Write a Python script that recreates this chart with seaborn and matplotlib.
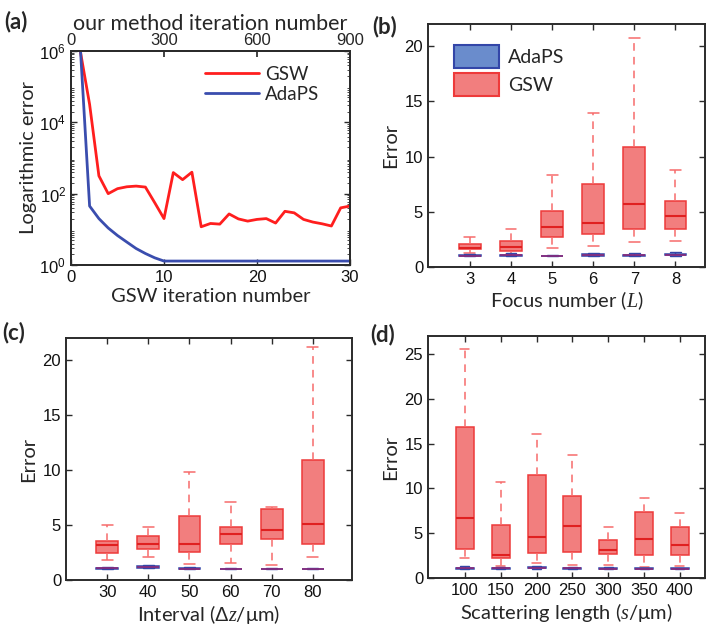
import numpy as np
import pandas as pd
import matplotlib
matplotlib.use("Agg")
import matplotlib.pyplot as plt
from matplotlib.patches import Patch
from matplotlib.ticker import LogLocator, NullFormatter, FixedLocator
import seaborn as sns

sns.set_theme(style="ticks")
plt.rcParams['font.family'] = ['Liberation Sans', 'DejaVu Sans']
plt.rcParams['mathtext.fontset'] = 'custom'
plt.rcParams['mathtext.it'] = 'Liberation Serif:italic'
plt.rcParams['mathtext.rm'] = 'Liberation Sans'

# ---------------- data ----------------
# (a) convergence curves
iters = list(range(1, 31))
gsw_curve = [1.0e6, 3.2e4, 316, 100, 138, 156, 163, 153, 56, 20,
             390, 247, 400, 11.8, 14.6, 14.0, 27, 19.6, 17, 19,
             20, 15, 32, 29, 19, 16, 14.3, 12.4, 40, 45]
adaps_curve = [1.3e6, 45, 20, 10.9, 6.7, 4.4, 2.9, 2.1, 1.59, 1.29,
               1.29, 1.29, 1.29, 1.29, 1.29, 1.29, 1.29, 1.29, 1.29, 1.29,
               1.29, 1.29, 1.29, 1.29, 1.29, 1.29, 1.29, 1.29, 1.29, 1.29]
top_ticks = [0, 300, 600, 900]

# box stats as [min, q1, median, q3, max]
# (b) focus number
focus_cats = ["3", "4", "5", "6", "7", "8"]
focus_gsw = [[1.25, 1.6, 1.76, 2.1, 2.73],
             [1.2, 1.45, 1.85, 2.33, 3.45],
             [1.73, 2.76, 3.6, 5.06, 8.33],
             [1.9, 3.0, 4.0, 7.48, 13.94],
             [2.24, 3.48, 5.7, 10.9, 20.7],
             [2.36, 3.45, 4.64, 5.94, 8.82]]
focus_ada = [[0.97, 1.0, 1.03, 1.1, 1.2],
             [0.98, 1.0, 1.05, 1.12, 1.3],
             [0.97, 0.99, 1.0, 1.03, 1.08],
             [0.98, 1.02, 1.07, 1.14, 1.3],
             [0.98, 1.02, 1.06, 1.12, 1.28],
             [1.0, 1.05, 1.1, 1.2, 1.4]]
# (c) interval
interval_cats = ["30", "40", "50", "60", "70", "80"]
interval_gsw = [[1.78, 2.45, 3.17, 3.56, 5.0],
                [2.08, 2.81, 3.29, 3.99, 4.83],
                [1.48, 2.54, 3.26, 5.83, 9.79],
                [1.54, 3.23, 4.17, 4.83, 7.13],
                [1.33, 3.75, 4.59, 6.47, 6.68],
                [2.11, 3.26, 5.05, 10.88, 21.2]]
interval_ada = [[0.98, 1.02, 1.06, 1.12, 1.22],
                [1.05, 1.12, 1.18, 1.26, 1.35],
                [0.98, 1.0, 1.04, 1.1, 1.18],
                [0.97, 0.99, 1.0, 1.03, 1.08],
                [0.96, 0.98, 1.0, 1.03, 1.08],
                [0.97, 0.99, 1.0, 1.03, 1.1]]
# (d) scattering length
scat_cats = ["100", "150", "200", "250", "300", "350", "400"]
scat_gsw = [[2.19, 3.26, 6.67, 16.9, 25.5],
            [1.33, 2.22, 2.56, 5.93, 10.7],
            [1.63, 2.78, 4.56, 11.44, 16.04],
            [1.44, 2.89, 5.81, 9.19, 13.74],
            [1.41, 2.7, 3.11, 4.22, 5.67],
            [1.22, 2.56, 4.37, 7.41, 8.89],
            [1.33, 2.56, 3.7, 5.7, 7.26]]
scat_ada = [[0.98, 1.02, 1.07, 1.14, 1.3],
            [0.98, 1.02, 1.08, 1.15, 1.28],
            [1.0, 1.06, 1.12, 1.22, 1.35],
            [0.98, 1.02, 1.07, 1.14, 1.22],
            [0.97, 1.0, 1.04, 1.1, 1.2],
            [0.97, 0.99, 1.02, 1.06, 1.12],
            [0.97, 1.0, 1.03, 1.08, 1.16]]

# ---------------- style ----------------
RED_LINE = '#FF1E1E'
BLUE_LINE = '#3A4DAE'
RED_FILL = '#F27E7E'
RED_EDGE = '#EE3A3A'
RED_WHISK = '#F76B6B'
RED_MED = '#E02020'
BLUE_FILL = '#6A8CCC'
BLUE_EDGE = '#3346A8'
LABEL_FONT = ['Lato', 'DejaVu Sans']
SPINE = '#2b2b2b'

W, H = 706, 630
fig = plt.figure(figsize=(W / 100, H / 100), dpi=100)


def add_ax(left, top, right, bottom):
    return fig.add_axes([left / W, 1 - bottom / H, (right - left) / W, (bottom - top) / H])


def style_ax(ax):
    for s in ax.spines.values():
        s.set_visible(True)
        s.set_color(SPINE)
        s.set_linewidth(1.4)
    ax.tick_params(direction='in', top=True, right=True, labelsize=12,
                   length=4, width=1.0, color=SPINE, labelcolor='#111111')


def make_long(cats, stats, name):
    rows = []
    for c, s in zip(cats, stats):
        for v in s:
            rows.append({"cat": c, "value": v, "method": name})
    return pd.DataFrame(rows)


def draw_boxes(ax, cats, gsw, ada, width):
    dg = make_long(cats, gsw, "GSW")
    da = make_long(cats, ada, "AdaPS")
    sns.boxplot(data=dg, x="cat", y="value", order=cats, ax=ax, whis=(0, 100),
                width=width, saturation=1, color=RED_FILL, linecolor=RED_EDGE,
                showfliers=False, linewidth=1.1,
                boxprops=dict(facecolor=RED_FILL, edgecolor=RED_EDGE),
                whiskerprops=dict(color=RED_WHISK, linestyle=(0, (5, 4)), linewidth=1.1),
                capprops=dict(color=RED_WHISK, linewidth=1.1),
                medianprops=dict(color=RED_MED, linewidth=1.5))
    sns.boxplot(data=da, x="cat", y="value", order=cats, ax=ax, whis=(0, 100),
                width=width, saturation=1, color=BLUE_FILL, linecolor=BLUE_EDGE,
                showfliers=False, linewidth=1.1,
                boxprops=dict(facecolor=BLUE_FILL, edgecolor=BLUE_EDGE),
                whiskerprops=dict(color=BLUE_EDGE, linestyle='-', linewidth=1.0),
                capprops=dict(color=BLUE_EDGE, linewidth=1.0),
                medianprops=dict(color='#8A2A7A', linewidth=1.2))


# ---------------- (a) ----------------
axa = add_ax(71, 51, 350, 265)
dfa = pd.DataFrame({"iter": iters + iters,
                    "err": gsw_curve + adaps_curve,
                    "method": ["GSW"] * len(iters) + ["AdaPS"] * len(iters)})
sns.lineplot(data=dfa, x="iter", y="err", hue="method", hue_order=["GSW", "AdaPS"],
             palette=[RED_LINE, BLUE_LINE], ax=axa, linewidth=2.0, legend=True)
axa.set_yscale('log')
axa.set_ylim(1, 1e6)
axa.set_xlim(0, 30)
axa.yaxis.set_major_locator(FixedLocator([1, 1e2, 1e4, 1e6]))
axa.yaxis.set_minor_locator(LogLocator(base=10, subs=np.arange(2, 10), numticks=20))
axa.yaxis.set_minor_formatter(NullFormatter())
axa.set_xticks([0, 10, 20, 30])
style_ax(axa)
axa.tick_params(which='minor', direction='in', length=2, width=0.6, right=True, color=SPINE)
axa.set_xlabel("GSW iteration number", family=LABEL_FONT, fontsize=14.5, labelpad=2)
axa.set_ylabel("Logarithmic error", family=LABEL_FONT, fontsize=14.5, labelpad=2)
leg = axa.legend(loc='upper left', bbox_to_anchor=(0.42, 1.01), frameon=False,
                 handlelength=2.9, handletextpad=0.3, labelspacing=0.15,
                 prop={'family': LABEL_FONT, 'size': 13.5})
axt = axa.twiny()
axt.set_xlim(0, 900)
axt.set_xticks(top_ticks)
axt.tick_params(direction='in', labelsize=12, length=4, color=SPINE, pad=2)
for s in axt.spines.values():
    s.set_color(SPINE)
    s.set_linewidth(1.4)
axt.set_xlabel("our method iteration number", family=LABEL_FONT, fontsize=15.5, labelpad=2)

# ---------------- (b) ----------------
axb = add_ax(428, 24, 705, 267)
draw_boxes(axb, focus_cats, focus_gsw, focus_ada, 0.53)
axb.set_xlim(-1.02, 5.72)
axb.set_ylim(0, 22)
axb.set_yticks([0, 5, 10, 15, 20])
style_ax(axb)
axb.set_xlabel(r"Focus number ($L$)", family=LABEL_FONT, fontsize=14.5, labelpad=2)
axb.set_ylabel("Error", family=LABEL_FONT, fontsize=14.5, labelpad=4)
handles = [Patch(facecolor=BLUE_FILL, edgecolor=BLUE_EDGE, linewidth=1.5, label="AdaPS"),
           Patch(facecolor=RED_FILL, edgecolor=RED_EDGE, linewidth=1.5, label="GSW")]
axb.legend(handles=handles, loc='upper left', bbox_to_anchor=(0.03, 0.985), frameon=False,
           handlelength=2.3, handleheight=1.4, handletextpad=0.5, labelspacing=0.3,
           prop={'family': LABEL_FONT, 'size': 14})

# ---------------- (c) ----------------
axc = add_ax(66, 338, 352, 580)
draw_boxes(axc, interval_cats, interval_gsw, interval_ada, 0.53)
axc.set_xlim(-1.0, 5.95)
axc.set_ylim(0, 22)
axc.set_yticks([0, 5, 10, 15, 20])
style_ax(axc)
axc.set_xlabel(r"Interval ($\Delta z$/μm)", family=LABEL_FONT, fontsize=14.5, labelpad=2)
axc.set_ylabel("Error", family=LABEL_FONT, fontsize=14.5, labelpad=4)

# ---------------- (d) ----------------
axd = add_ax(428, 336, 705, 578)
draw_boxes(axd, scat_cats, scat_gsw, scat_ada, 0.5)
axd.set_xlim(-1.03, 6.7)
axd.set_ylim(0, 27)
axd.set_yticks([0, 5, 10, 15, 20, 25])
style_ax(axd)
axd.set_xlabel(r"Scattering length ($s$/μm)", family=LABEL_FONT, fontsize=14.5, labelpad=2)
axd.set_ylabel("Error", family=LABEL_FONT, fontsize=14.5, labelpad=4)

# panel letters
for txt, x, y in [("(a)", 4, 22), ("(b)", 372, 27), ("(c)", 2, 333), ("(d)", 370, 335)]:
    fig.text(x / W, 1 - y / H, txt, family=LABEL_FONT, fontsize=16, fontweight='bold',
             va='center', ha='left')

fig.savefig("out.png", dpi=100)
